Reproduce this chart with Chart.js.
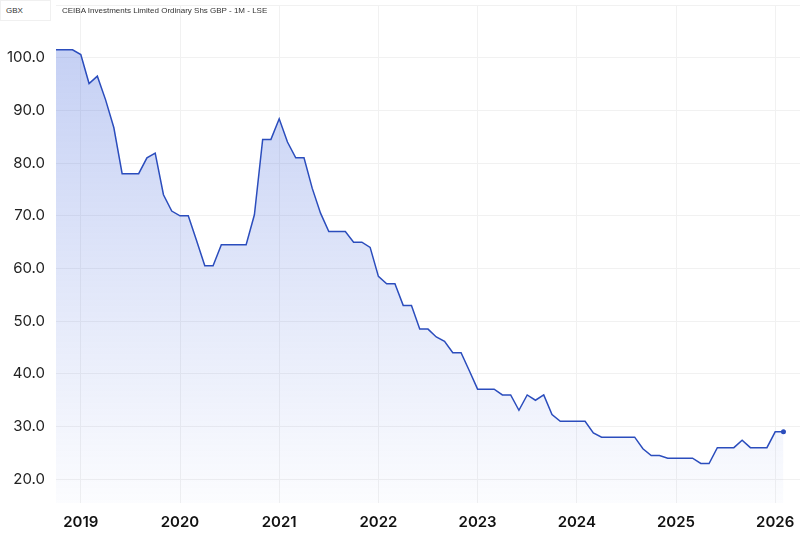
<!DOCTYPE html>
<html>
<head>
<meta charset="utf-8">
<script src="https://cdn.jsdelivr.net/npm/chart.js@4"></script>
<style>
  html, body { margin: 0; padding: 0; background: #fff; }
  #wrap { position: relative; width: 800px; height: 537px; }
  canvas { display: block; }
  #hdr-unit { position: absolute; left: 0; top: 0; width: 51px; height: 21px; box-sizing: border-box;
    border: 1px solid #f0f0f0; background: #fff; font: 8px "Liberation Sans", Arial, sans-serif; color: #333;
    line-height: 20px; padding-left: 5px; z-index: 2; }
  #hdr-title { position: absolute; left: 62px; top: 0; height: 21px;
    font: 8px "Liberation Sans", Arial, sans-serif; line-height: 22px; color: #333; z-index: 2; }
</style>
</head>
<body>
<div id="wrap">
  <div id="hdr-unit">GBX</div>
  <div id="hdr-title">CEIBA Investments Limited Ordinary Shs GBP - 1M - LSE</div>
  <canvas id="c" width="800" height="537"></canvas>
</div>
<script>
// Monthly closes, Oct 2018 .. Feb 2026 (GBX)
const months = [
  "2018-10","2018-11","2018-12",
  "2019-01","2019-02","2019-03","2019-04","2019-05","2019-06","2019-07","2019-08","2019-09","2019-10","2019-11","2019-12",
  "2020-01","2020-02","2020-03","2020-04","2020-05","2020-06","2020-07","2020-08","2020-09","2020-10","2020-11","2020-12",
  "2021-01","2021-02","2021-03","2021-04","2021-05","2021-06","2021-07","2021-08","2021-09","2021-10","2021-11","2021-12",
  "2022-01","2022-02","2022-03","2022-04","2022-05","2022-06","2022-07","2022-08","2022-09","2022-10","2022-11","2022-12",
  "2023-01","2023-02","2023-03","2023-04","2023-05","2023-06","2023-07","2023-08","2023-09","2023-10","2023-11","2023-12",
  "2024-01","2024-02","2024-03","2024-04","2024-05","2024-06","2024-07","2024-08","2024-09","2024-10","2024-11","2024-12",
  "2025-01","2025-02","2025-03","2025-04","2025-05","2025-06","2025-07","2025-08","2025-09","2025-10","2025-11","2025-12",
  "2026-01","2026-02"
];
const prices = [
  101.5, 101.5, 101.5,
  100.6, 95.1, 96.5, 92.0, 86.7, 78.0, 78.0, 78.0, 81.0, 81.9, 74.0, 70.9,
  70.0, 70.0, 65.3, 60.5, 60.5, 64.5, 64.5, 64.5, 64.5, 70.2, 84.5, 84.5,
  88.4, 84.0, 81.0, 81.0, 75.2, 70.5, 67.0, 67.0, 67.0, 65.0, 65.0, 64.0,
  58.5, 57.1, 57.1, 53.0, 53.0, 48.5, 48.5, 47.0, 46.2, 44.0, 44.0, 40.6,
  37.1, 37.1, 37.1, 36.0, 36.0, 33.1, 36.0, 35.0, 36.0, 32.3, 31.0, 31.0,
  31.0, 31.0, 28.8, 28.0, 28.0, 28.0, 28.0, 28.0, 25.8, 24.5, 24.5, 24.0,
  24.0, 24.0, 24.0, 23.0, 23.0, 26.0, 26.0, 26.0, 27.4, 26.0, 26.0, 26.0,
  29.0, 29.0
];
// empty months after the last close (right margin of the time axis)
const padMonths = ["2026-03","2026-04"];
const yTicks = [20, 30, 40, 50, 60, 70, 80, 90, 100, 110];

const labels = months.concat(padMonths);
const data = prices.concat(padMonths.map(() => null));
const lastIdx = prices.length - 1;

new Chart(document.getElementById('c'), {
  type: 'line',
  data: {
    labels: labels,
    datasets: [{
      data: data,
      borderColor: '#2b4dbd',
      borderWidth: 1.5,
      tension: 0,
      fill: 'origin',
      backgroundColor: (ctx) => {
        const ca = ctx.chart.chartArea;
        if (!ca) return 'rgba(60,100,220,0.2)';
        const g = ctx.chart.ctx.createLinearGradient(0, ca.top, 0, ca.bottom);
        g.addColorStop(0, 'rgba(70,105,220,0.34)');
        g.addColorStop(1, 'rgba(70,105,220,0.02)');
        return g;
      },
      pointRadius: (ctx) => ctx.dataIndex === lastIdx ? 2.5 : 0,
      pointBackgroundColor: '#2b4dbd',
      pointBorderWidth: 0,
      pointHoverRadius: 0
    }]
  },
  options: {
    responsive: false,
    animation: false,
    layout: { padding: { top: 5, right: 0, bottom: 0, left: 0 } },
    plugins: { legend: { display: false }, tooltip: { enabled: false } },
    scales: {
      x: {
        type: 'category',
        offset: false,
        border: { display: false },
        grid: { color: '#f1f1f1', drawTicks: false },
        afterBuildTicks: (scale) => {
          scale.ticks = scale.ticks.filter(t => labels[t.value].endsWith('-01'));
        },
        afterFit: (scale) => {
          scale.height = 34;
          scale.paddingLeft = 0; scale.paddingRight = 0;
          scale.paddingTop = 0; scale.paddingBottom = 0;
        },
        ticks: {
          autoSkip: false,
          maxRotation: 0,
          padding: 10,
          color: '#111',
          font: { family: 'Inter', size: 15, weight: '600' },
          callback: function (v) { return labels[v].slice(0, 4); }
        }
      },
      y: {
        min: 15.5,
        max: 110,
        border: { display: false },
        grid: { color: '#f1f1f1', drawTicks: false },
        afterBuildTicks: (scale) => { scale.ticks = yTicks.map(v => ({ value: v })); },
        afterFit: (scale) => {
          scale.width = 56;
          scale.paddingTop = 0; scale.paddingBottom = 0;
          scale.paddingLeft = 0; scale.paddingRight = 0;
        },
        ticks: {
          padding: 11,
          color: '#222',
          font: { family: 'Inter', size: 15 },
          callback: (v) => v >= 110 ? '' : Number(v).toFixed(1)
        }
      }
    }
  }
});
</script>
</body>
</html>
